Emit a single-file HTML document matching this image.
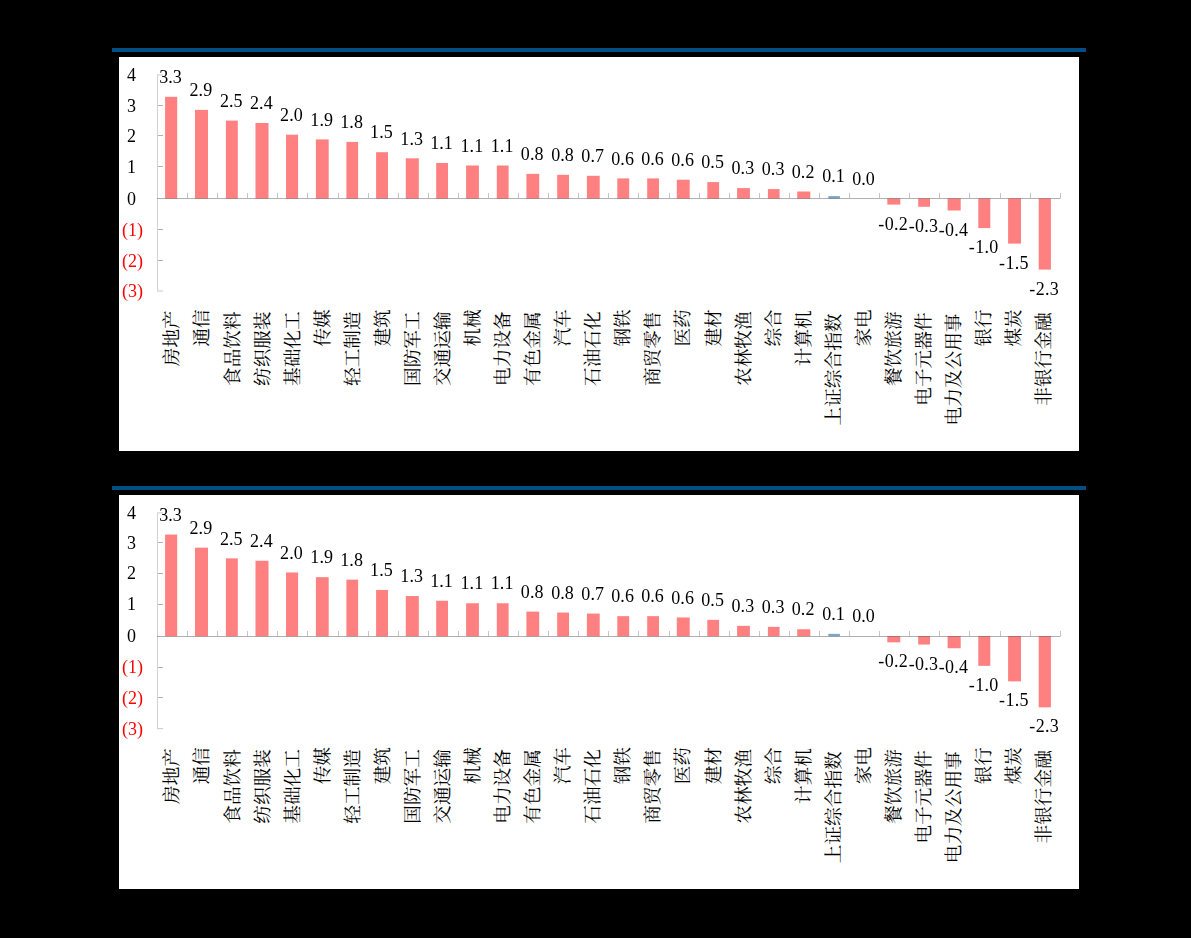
<!DOCTYPE html>
<html><head><meta charset="utf-8"><title>chart</title>
<style>
html,body{margin:0;padding:0;background:#000;}
body{width:1191px;height:938px;overflow:hidden;font-family:"Liberation Serif",serif;}
svg{display:block}
</style></head><body>
<svg width="1191" height="938" viewBox="0 0 1191 938">
<defs>
<filter id="soft" x="0" y="0" width="1191" height="938" filterUnits="userSpaceOnUse"><feGaussianBlur stdDeviation="0.3"/></filter>
</defs>
<rect width="1191" height="938" fill="#000"/>
<g transform="translate(0,0)">
<rect x="112" y="48" width="974" height="4" fill="#034e84"/>
<rect x="119" y="57" width="960" height="394" fill="#fff"/>
<g transform="translate(0,0.0)">
<rect x="165.10" y="96.80" width="12.10" height="101.70" fill="#ff8080"/>
<rect x="195.00" y="109.90" width="13.00" height="88.60" fill="#ff8080"/>
<rect x="225.90" y="120.60" width="11.90" height="77.90" fill="#ff8080"/>
<rect x="255.50" y="123.00" width="13.00" height="75.50" fill="#ff8080"/>
<rect x="286.00" y="134.70" width="12.10" height="63.80" fill="#ff8080"/>
<rect x="315.90" y="139.40" width="12.80" height="59.10" fill="#ff8080"/>
<rect x="346.40" y="141.90" width="11.70" height="56.60" fill="#ff8080"/>
<rect x="376.10" y="152.20" width="11.90" height="46.30" fill="#ff8080"/>
<rect x="405.80" y="158.30" width="13.00" height="40.20" fill="#ff8080"/>
<rect x="436.20" y="163.00" width="11.80" height="35.50" fill="#ff8080"/>
<rect x="466.10" y="165.50" width="12.80" height="33.00" fill="#ff8080"/>
<rect x="496.80" y="165.50" width="11.80" height="33.00" fill="#ff8080"/>
<rect x="526.40" y="173.85" width="12.80" height="24.65" fill="#ff8080"/>
<rect x="557.20" y="174.80" width="11.80" height="23.70" fill="#ff8080"/>
<rect x="586.90" y="175.80" width="12.80" height="22.70" fill="#ff8080"/>
<rect x="617.30" y="178.40" width="11.90" height="20.10" fill="#ff8080"/>
<rect x="647.20" y="178.40" width="11.80" height="20.10" fill="#ff8080"/>
<rect x="676.80" y="179.70" width="12.90" height="18.80" fill="#ff8080"/>
<rect x="707.30" y="182.10" width="11.80" height="16.40" fill="#ff8080"/>
<rect x="737.10" y="188.10" width="12.80" height="10.40" fill="#ff8080"/>
<rect x="767.90" y="189.10" width="11.70" height="9.40" fill="#ff8080"/>
<rect x="797.20" y="191.50" width="13.10" height="7.00" fill="#ff8080"/>
<rect x="828.30" y="196.10" width="11.60" height="2.40" fill="#7da5c5"/>
<rect x="887.30" y="198.50" width="13.00" height="6.10" fill="#ff8080"/>
<rect x="918.20" y="198.50" width="11.80" height="8.30" fill="#ff8080"/>
<rect x="947.60" y="198.50" width="13.10" height="12.00" fill="#ff8080"/>
<rect x="978.30" y="198.50" width="12.00" height="29.60" fill="#ff8080"/>
<rect x="1008.10" y="198.50" width="12.90" height="45.10" fill="#ff8080"/>
<rect x="1038.70" y="198.50" width="12.20" height="71.10" fill="#ff8080"/>
<g stroke="#000" stroke-width="1" fill="none" transform="translate(0,-0.0)">
<path stroke-opacity="0.18" d="M157.50 74.40V291.50"/>
<path stroke-opacity="0.31" d="M157.00 198.50H1060.50"/>
<path stroke-opacity="0.31" d="M158.00 105.50h5M158.00 135.50h5M158.00 166.50h5M158.00 229.50h5M158.00 260.50h5"/>
<path stroke-opacity="0.21" d="M158.00 74.90h5M158.00 291.00h5"/>
<path stroke-opacity="0.23" d="M187.5 198.00v-5M217.5 198.00v-5M247.5 198.00v-5M277.5 198.00v-5M307.5 198.00v-5M338.5 198.00v-5M368.5 198.00v-5M398.5 198.00v-5M428.5 198.00v-5M458.5 198.00v-5M488.5 198.00v-5M518.5 198.00v-5M548.5 198.00v-5M578.5 198.00v-5M608.5 198.00v-5M638.5 198.00v-5M669.5 198.00v-5M699.5 198.00v-5M729.5 198.00v-5M759.5 198.00v-5M789.5 198.00v-5M819.5 198.00v-5M849.5 198.00v-5M879.5 198.00v-5M909.5 198.00v-5M939.5 198.00v-5M969.5 198.00v-5M1000.5 198.00v-5M1030.5 198.00v-5M1060.5 198.00v-5"/>
</g>
<g font-family="Liberation Serif, serif" font-size="18.0" text-anchor="middle" filter="url(#soft)">
<text x="131.6" y="81.10" fill="#000">4</text>
<text x="131.6" y="111.70" fill="#000">3</text>
<text x="131.6" y="141.70" fill="#000">2</text>
<text x="131.6" y="172.70" fill="#000">1</text>
<text x="131.6" y="204.70" fill="#000">0</text>
<text x="132.4" y="235.70" fill="#f00">(1)</text>
<text x="132.4" y="266.70" fill="#f00">(2)</text>
<text x="132.4" y="297.20" fill="#f00">(3)</text>
<text x="170.55" y="83.00" fill="#000" letter-spacing="0.08">3.3</text>
<text x="200.90" y="96.10" fill="#000" letter-spacing="0.08">2.9</text>
<text x="231.25" y="106.80" fill="#000" letter-spacing="0.08">2.5</text>
<text x="261.40" y="109.20" fill="#000" letter-spacing="0.08">2.4</text>
<text x="291.45" y="120.90" fill="#000" letter-spacing="0.08">2.0</text>
<text x="321.70" y="125.60" fill="#000" letter-spacing="0.08">1.9</text>
<text x="351.65" y="128.10" fill="#000" letter-spacing="0.08">1.8</text>
<text x="381.45" y="138.40" fill="#000" letter-spacing="0.08">1.5</text>
<text x="411.70" y="144.50" fill="#000" letter-spacing="0.08">1.3</text>
<text x="441.50" y="149.20" fill="#000" letter-spacing="0.08">1.1</text>
<text x="471.90" y="151.70" fill="#000" letter-spacing="0.08">1.1</text>
<text x="502.10" y="151.70" fill="#000" letter-spacing="0.08">1.1</text>
<text x="532.20" y="160.05" fill="#000" letter-spacing="0.08">0.8</text>
<text x="562.50" y="161.00" fill="#000" letter-spacing="0.08">0.8</text>
<text x="592.70" y="162.00" fill="#000" letter-spacing="0.08">0.7</text>
<text x="622.65" y="164.60" fill="#000" letter-spacing="0.08">0.6</text>
<text x="652.50" y="164.60" fill="#000" letter-spacing="0.08">0.6</text>
<text x="682.65" y="165.90" fill="#000" letter-spacing="0.08">0.6</text>
<text x="712.60" y="168.30" fill="#000" letter-spacing="0.08">0.5</text>
<text x="742.90" y="174.30" fill="#000" letter-spacing="0.08">0.3</text>
<text x="773.15" y="175.30" fill="#000" letter-spacing="0.08">0.3</text>
<text x="803.15" y="177.70" fill="#000" letter-spacing="0.08">0.2</text>
<text x="833.50" y="182.30" fill="#000" letter-spacing="0.08">0.1</text>
<text x="863.55" y="184.70" fill="#000" letter-spacing="0.08">0.0</text>
<text x="893.20" y="229.70" fill="#000" letter-spacing="0.3">-0.2</text>
<text x="923.50" y="231.90" fill="#000" letter-spacing="0.3">-0.3</text>
<text x="953.55" y="235.60" fill="#000" letter-spacing="0.3">-0.4</text>
<text x="983.70" y="253.20" fill="#000" letter-spacing="0.3">-1.0</text>
<text x="1013.95" y="268.70" fill="#000" letter-spacing="0.3">-1.5</text>
<text x="1044.20" y="294.70" fill="#000" letter-spacing="0.3">-2.3</text>
</g>
<g font-family="'Liberation Serif', 'Noto Serif CJK SC', serif" font-size="18.67" fill="#000" text-anchor="end">
<text transform="translate(178.37,310.31) rotate(-90)">房地产</text>
<text transform="translate(208.44,309.24) rotate(-90)">通信</text>
<text transform="translate(238.50,311.38) rotate(-90)">食品饮料</text>
<text transform="translate(268.57,311.38) rotate(-90)">纺织服装</text>
<text transform="translate(298.63,311.38) rotate(-90)">基础化工</text>
<text transform="translate(328.70,309.24) rotate(-90)">传媒</text>
<text transform="translate(358.76,311.38) rotate(-90)">轻工制造</text>
<text transform="translate(388.83,309.24) rotate(-90)">建筑</text>
<text transform="translate(418.89,311.38) rotate(-90)">国防军工</text>
<text transform="translate(448.96,311.38) rotate(-90)">交通运输</text>
<text transform="translate(479.02,309.24) rotate(-90)">机械</text>
<text transform="translate(509.09,311.38) rotate(-90)">电力设备</text>
<text transform="translate(539.15,311.38) rotate(-90)">有色金属</text>
<text transform="translate(569.22,309.24) rotate(-90)">汽车</text>
<text transform="translate(599.28,311.38) rotate(-90)">石油石化</text>
<text transform="translate(629.35,309.24) rotate(-90)">钢铁</text>
<text transform="translate(659.41,311.38) rotate(-90)">商贸零售</text>
<text transform="translate(689.48,309.24) rotate(-90)">医药</text>
<text transform="translate(719.54,309.24) rotate(-90)">建材</text>
<text transform="translate(749.61,311.38) rotate(-90)">农林牧渔</text>
<text transform="translate(779.67,309.24) rotate(-90)">综合</text>
<text transform="translate(809.74,310.31) rotate(-90)">计算机</text>
<text transform="translate(839.80,313.52) rotate(-90)">上证综合指数</text>
<text transform="translate(869.87,309.24) rotate(-90)">家电</text>
<text transform="translate(899.93,311.38) rotate(-90)">餐饮旅游</text>
<text transform="translate(930.00,312.45) rotate(-90)">电子元器件</text>
<text transform="translate(960.06,313.52) rotate(-90)">电力及公用事</text>
<text transform="translate(990.12,309.24) rotate(-90)">银行</text>
<text transform="translate(1020.19,309.24) rotate(-90)">煤炭</text>
<text transform="translate(1050.25,312.45) rotate(-90)">非银行金融</text>
</g>
</g></g>
<g transform="translate(0,438)">
<rect x="112" y="48" width="974" height="4" fill="#034e84"/>
<rect x="119" y="57" width="960" height="394" fill="#fff"/>
<g transform="translate(0,-0.25)">
<rect x="165.10" y="96.80" width="12.10" height="101.70" fill="#ff8080"/>
<rect x="195.00" y="109.90" width="13.00" height="88.60" fill="#ff8080"/>
<rect x="225.90" y="120.60" width="11.90" height="77.90" fill="#ff8080"/>
<rect x="255.50" y="123.00" width="13.00" height="75.50" fill="#ff8080"/>
<rect x="286.00" y="134.70" width="12.10" height="63.80" fill="#ff8080"/>
<rect x="315.90" y="139.40" width="12.80" height="59.10" fill="#ff8080"/>
<rect x="346.40" y="141.90" width="11.70" height="56.60" fill="#ff8080"/>
<rect x="376.10" y="152.20" width="11.90" height="46.30" fill="#ff8080"/>
<rect x="405.80" y="158.30" width="13.00" height="40.20" fill="#ff8080"/>
<rect x="436.20" y="163.00" width="11.80" height="35.50" fill="#ff8080"/>
<rect x="466.10" y="165.50" width="12.80" height="33.00" fill="#ff8080"/>
<rect x="496.80" y="165.50" width="11.80" height="33.00" fill="#ff8080"/>
<rect x="526.40" y="173.85" width="12.80" height="24.65" fill="#ff8080"/>
<rect x="557.20" y="174.80" width="11.80" height="23.70" fill="#ff8080"/>
<rect x="586.90" y="175.80" width="12.80" height="22.70" fill="#ff8080"/>
<rect x="617.30" y="178.40" width="11.90" height="20.10" fill="#ff8080"/>
<rect x="647.20" y="178.40" width="11.80" height="20.10" fill="#ff8080"/>
<rect x="676.80" y="179.70" width="12.90" height="18.80" fill="#ff8080"/>
<rect x="707.30" y="182.10" width="11.80" height="16.40" fill="#ff8080"/>
<rect x="737.10" y="188.10" width="12.80" height="10.40" fill="#ff8080"/>
<rect x="767.90" y="189.10" width="11.70" height="9.40" fill="#ff8080"/>
<rect x="797.20" y="191.50" width="13.10" height="7.00" fill="#ff8080"/>
<rect x="828.30" y="196.10" width="11.60" height="2.40" fill="#7da5c5"/>
<rect x="887.30" y="198.50" width="13.00" height="6.10" fill="#ff8080"/>
<rect x="918.20" y="198.50" width="11.80" height="8.30" fill="#ff8080"/>
<rect x="947.60" y="198.50" width="13.10" height="12.00" fill="#ff8080"/>
<rect x="978.30" y="198.50" width="12.00" height="29.60" fill="#ff8080"/>
<rect x="1008.10" y="198.50" width="12.90" height="45.10" fill="#ff8080"/>
<rect x="1038.70" y="198.50" width="12.20" height="71.10" fill="#ff8080"/>
<g stroke="#000" stroke-width="1" fill="none" transform="translate(0,0.25)">
<path stroke-opacity="0.18" d="M157.50 74.40V291.10"/>
<path stroke-opacity="0.31" d="M157.00 198.50H1060.50"/>
<path stroke-opacity="0.31" d="M158.00 104.50h5M158.00 135.50h5M158.00 166.50h5M158.00 229.50h5M158.00 259.50h5"/>
<path stroke-opacity="0.21" d="M158.00 74.90h5M158.00 290.60h5"/>
<path stroke-opacity="0.23" d="M187.5 198.00v-5M217.5 198.00v-5M247.5 198.00v-5M277.5 198.00v-5M307.5 198.00v-5M338.5 198.00v-5M368.5 198.00v-5M398.5 198.00v-5M428.5 198.00v-5M458.5 198.00v-5M488.5 198.00v-5M518.5 198.00v-5M548.5 198.00v-5M578.5 198.00v-5M608.5 198.00v-5M638.5 198.00v-5M669.5 198.00v-5M699.5 198.00v-5M729.5 198.00v-5M759.5 198.00v-5M789.5 198.00v-5M819.5 198.00v-5M849.5 198.00v-5M879.5 198.00v-5M909.5 198.00v-5M939.5 198.00v-5M969.5 198.00v-5M1000.5 198.00v-5M1030.5 198.00v-5M1060.5 198.00v-5"/>
</g>
<g font-family="Liberation Serif, serif" font-size="18.0" text-anchor="middle" filter="url(#soft)">
<text x="131.6" y="81.10" fill="#000">4</text>
<text x="131.6" y="111.70" fill="#000">3</text>
<text x="131.6" y="141.70" fill="#000">2</text>
<text x="131.6" y="172.70" fill="#000">1</text>
<text x="131.6" y="204.70" fill="#000">0</text>
<text x="132.4" y="235.70" fill="#f00">(1)</text>
<text x="132.4" y="266.70" fill="#f00">(2)</text>
<text x="132.4" y="297.20" fill="#f00">(3)</text>
<text x="170.55" y="83.00" fill="#000" letter-spacing="0.08">3.3</text>
<text x="200.90" y="96.10" fill="#000" letter-spacing="0.08">2.9</text>
<text x="231.25" y="106.80" fill="#000" letter-spacing="0.08">2.5</text>
<text x="261.40" y="109.20" fill="#000" letter-spacing="0.08">2.4</text>
<text x="291.45" y="120.90" fill="#000" letter-spacing="0.08">2.0</text>
<text x="321.70" y="125.60" fill="#000" letter-spacing="0.08">1.9</text>
<text x="351.65" y="128.10" fill="#000" letter-spacing="0.08">1.8</text>
<text x="381.45" y="138.40" fill="#000" letter-spacing="0.08">1.5</text>
<text x="411.70" y="144.50" fill="#000" letter-spacing="0.08">1.3</text>
<text x="441.50" y="149.20" fill="#000" letter-spacing="0.08">1.1</text>
<text x="471.90" y="151.70" fill="#000" letter-spacing="0.08">1.1</text>
<text x="502.10" y="151.70" fill="#000" letter-spacing="0.08">1.1</text>
<text x="532.20" y="160.05" fill="#000" letter-spacing="0.08">0.8</text>
<text x="562.50" y="161.00" fill="#000" letter-spacing="0.08">0.8</text>
<text x="592.70" y="162.00" fill="#000" letter-spacing="0.08">0.7</text>
<text x="622.65" y="164.60" fill="#000" letter-spacing="0.08">0.6</text>
<text x="652.50" y="164.60" fill="#000" letter-spacing="0.08">0.6</text>
<text x="682.65" y="165.90" fill="#000" letter-spacing="0.08">0.6</text>
<text x="712.60" y="168.30" fill="#000" letter-spacing="0.08">0.5</text>
<text x="742.90" y="174.30" fill="#000" letter-spacing="0.08">0.3</text>
<text x="773.15" y="175.30" fill="#000" letter-spacing="0.08">0.3</text>
<text x="803.15" y="177.70" fill="#000" letter-spacing="0.08">0.2</text>
<text x="833.50" y="182.30" fill="#000" letter-spacing="0.08">0.1</text>
<text x="863.55" y="184.70" fill="#000" letter-spacing="0.08">0.0</text>
<text x="893.20" y="229.70" fill="#000" letter-spacing="0.3">-0.2</text>
<text x="923.50" y="231.90" fill="#000" letter-spacing="0.3">-0.3</text>
<text x="953.55" y="235.60" fill="#000" letter-spacing="0.3">-0.4</text>
<text x="983.70" y="253.20" fill="#000" letter-spacing="0.3">-1.0</text>
<text x="1013.95" y="268.70" fill="#000" letter-spacing="0.3">-1.5</text>
<text x="1044.20" y="294.70" fill="#000" letter-spacing="0.3">-2.3</text>
</g>
<g font-family="'Liberation Serif', 'Noto Serif CJK SC', serif" font-size="18.67" fill="#000" text-anchor="end">
<text transform="translate(178.37,310.31) rotate(-90)">房地产</text>
<text transform="translate(208.44,309.24) rotate(-90)">通信</text>
<text transform="translate(238.50,311.38) rotate(-90)">食品饮料</text>
<text transform="translate(268.57,311.38) rotate(-90)">纺织服装</text>
<text transform="translate(298.63,311.38) rotate(-90)">基础化工</text>
<text transform="translate(328.70,309.24) rotate(-90)">传媒</text>
<text transform="translate(358.76,311.38) rotate(-90)">轻工制造</text>
<text transform="translate(388.83,309.24) rotate(-90)">建筑</text>
<text transform="translate(418.89,311.38) rotate(-90)">国防军工</text>
<text transform="translate(448.96,311.38) rotate(-90)">交通运输</text>
<text transform="translate(479.02,309.24) rotate(-90)">机械</text>
<text transform="translate(509.09,311.38) rotate(-90)">电力设备</text>
<text transform="translate(539.15,311.38) rotate(-90)">有色金属</text>
<text transform="translate(569.22,309.24) rotate(-90)">汽车</text>
<text transform="translate(599.28,311.38) rotate(-90)">石油石化</text>
<text transform="translate(629.35,309.24) rotate(-90)">钢铁</text>
<text transform="translate(659.41,311.38) rotate(-90)">商贸零售</text>
<text transform="translate(689.48,309.24) rotate(-90)">医药</text>
<text transform="translate(719.54,309.24) rotate(-90)">建材</text>
<text transform="translate(749.61,311.38) rotate(-90)">农林牧渔</text>
<text transform="translate(779.67,309.24) rotate(-90)">综合</text>
<text transform="translate(809.74,310.31) rotate(-90)">计算机</text>
<text transform="translate(839.80,313.52) rotate(-90)">上证综合指数</text>
<text transform="translate(869.87,309.24) rotate(-90)">家电</text>
<text transform="translate(899.93,311.38) rotate(-90)">餐饮旅游</text>
<text transform="translate(930.00,312.45) rotate(-90)">电子元器件</text>
<text transform="translate(960.06,313.52) rotate(-90)">电力及公用事</text>
<text transform="translate(990.12,309.24) rotate(-90)">银行</text>
<text transform="translate(1020.19,309.24) rotate(-90)">煤炭</text>
<text transform="translate(1050.25,312.45) rotate(-90)">非银行金融</text>
</g>
</g></g>
</svg>
</body></html>
